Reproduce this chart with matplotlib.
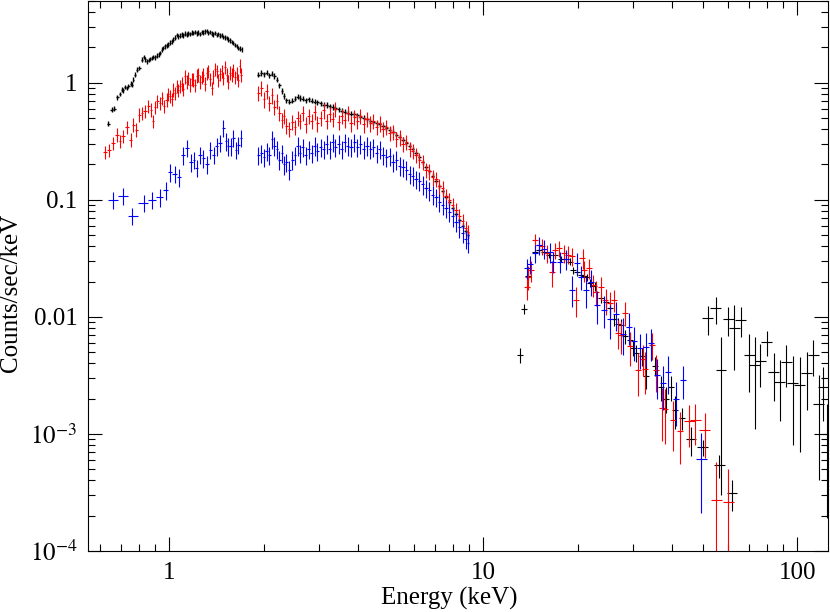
# -*- coding: utf-8 -*-
"""
Unfolded X-ray spectrum, three instruments (XSPEC-style cross plot)
"""

import numpy as np
import matplotlib
matplotlib.use('Agg')
import matplotlib.pyplot as plt
from matplotlib.ticker import FixedLocator, FixedFormatter, LogLocator, NullFormatter

# %% Data

# soft band, 0.6 - 1.7 keV
e_soft_blk = [0.639, 0.655, 0.666, 0.683, 0.695, 0.705, 0.714, 0.722, 0.731, 0.740,
              0.753, 0.760, 0.767, 0.777, 0.790, 0.802, 0.816, 0.830, 0.838, 0.847,
              0.858, 0.868, 0.879, 0.889, 0.902, 0.915, 0.925, 0.933, 0.945, 0.956,
              0.968, 0.980, 0.992, 1.005, 1.017, 1.030, 1.042, 1.055, 1.068, 1.081,
              1.095, 1.108, 1.121, 1.135, 1.149, 1.163, 1.177, 1.192, 1.207, 1.222,
              1.237, 1.252, 1.268, 1.284, 1.300, 1.315, 1.331, 1.348, 1.364, 1.380,
              1.397, 1.414, 1.432, 1.449, 1.467, 1.485, 1.503, 1.522, 1.541, 1.560,
              1.579, 1.598, 1.618, 1.637, 1.657, 1.678, 1.698]
c_soft_blk = [0.446, 0.588, 0.60, 0.75, 0.80, 0.87, 0.86, 0.92, 0.90, 0.94,
              0.98, 0.96, 1.06, 1.17, 1.29, 1.34, 1.57, 1.66, 1.58, 1.52,
              1.56, 1.59, 1.63, 1.66, 1.64, 1.70, 1.75, 1.79, 1.91, 1.97,
              2.04, 2.08, 2.11, 2.20, 2.26, 2.33, 2.42, 2.55, 2.48, 2.52,
              2.58, 2.54, 2.62, 2.57, 2.64, 2.60, 2.68, 2.66, 2.70, 2.63,
              2.67, 2.60, 2.72, 2.68, 2.74, 2.76, 2.66, 2.71, 2.62, 2.58,
              2.65, 2.55, 2.60, 2.52, 2.55, 2.46, 2.44, 2.40, 2.33, 2.30,
              2.22, 2.18, 2.10, 2.05, 1.98, 1.95, 1.92]

e_soft_red = [0.624, 0.644, 0.660, 0.680, 0.697, 0.710, 0.731, 0.753, 0.767, 0.783,
              0.802, 0.816, 0.836, 0.857, 0.872, 0.889, 0.903, 0.915, 0.933, 0.948,
              0.961, 0.980, 0.993, 1.005, 1.017, 1.029, 1.042, 1.055, 1.068, 1.081,
              1.095, 1.108, 1.121, 1.135, 1.149, 1.163, 1.177, 1.192, 1.207, 1.222,
              1.236, 1.252, 1.268, 1.282, 1.300, 1.315, 1.330, 1.348, 1.364, 1.380,
              1.397, 1.414, 1.432, 1.449, 1.467, 1.485, 1.503, 1.522, 1.541, 1.560,
              1.580, 1.598, 1.618, 1.638, 1.657, 1.676, 1.690]
c_soft_red = [0.254, 0.264, 0.305, 0.36, 0.315, 0.348, 0.42, 0.326, 0.438, 0.397,
              0.533, 0.55, 0.569, 0.628, 0.588, 0.467, 0.62, 0.692, 0.67, 0.74,
              0.628, 0.716, 0.80, 0.764, 0.72, 0.871, 0.82, 0.93, 0.86, 0.93,
              0.98, 0.88, 1.13, 1.02, 1.10, 0.96, 1.08, 1.06, 0.95, 1.15,
              1.17, 1.02, 1.12, 1.17, 0.98, 1.20, 1.25, 1.08, 0.90, 1.13,
              1.30, 1.25, 1.05, 1.18, 1.25, 1.10, 1.35, 1.17, 1.02, 1.22,
              1.17, 1.28, 1.12, 1.21, 1.05, 1.40, 1.17]

e_soft_blu = [0.663, 0.713, 0.762, 0.830, 0.878, 0.933, 0.975, 1.005, 1.039, 1.075,
              1.102, 1.140, 1.172, 1.198, 1.222, 1.252, 1.282, 1.321, 1.346, 1.387,
              1.414, 1.449, 1.485, 1.511, 1.540, 1.567, 1.598, 1.630, 1.658, 1.687]
c_soft_blu = [0.100, 0.108, 0.073, 0.094, 0.100, 0.105, 0.120, 0.172, 0.167, 0.156,
              0.239, 0.277, 0.208, 0.220, 0.187, 0.243, 0.227, 0.200, 0.268, 0.243,
              0.286, 0.305, 0.410, 0.315, 0.286, 0.286, 0.337, 0.268, 0.295, 0.337]

# medium band, 1.9 - 9 keV (same grid for the three instruments)
e_mid = [1.92, 1.96, 2.00, 2.04, 2.08, 2.12, 2.16, 2.20, 2.24, 2.28,
         2.32, 2.36, 2.41, 2.46, 2.51, 2.56, 2.61, 2.66, 2.72, 2.78,
         2.84, 2.90, 2.96, 3.03, 3.10, 3.17, 3.24, 3.31, 3.38, 3.46,
         3.54, 3.62, 3.70, 3.79, 3.88, 3.97, 4.06, 4.16, 4.26, 4.36,
         4.46, 4.57, 4.68, 4.79, 4.91, 5.03, 5.15, 5.28, 5.41, 5.54,
         5.68, 5.82, 5.96, 6.11, 6.26, 6.41, 6.57, 6.73, 6.90, 7.07,
         7.24, 7.42, 7.60, 7.79, 7.98, 8.18, 8.38, 8.59, 8.80, 8.95]
c_mid_blk = [1.17, 1.21, 1.18, 1.22, 1.16, 1.19, 1.14, 1.06, 0.95, 0.85,
             0.77, 0.71, 0.69, 0.70, 0.73, 0.76, 0.74, 0.73, 0.71, 0.72,
             0.70, 0.69, 0.68, 0.67, 0.65, 0.645, 0.63, 0.62, 0.605, 0.59,
             0.575, 0.565, 0.555, 0.545, 0.535, 0.525, 0.51, 0.50, 0.485, 0.47,
             0.46, 0.45, 0.44, 0.425, 0.41, 0.395, 0.38, 0.36, 0.345, 0.325,
             0.305, 0.29, 0.27, 0.25, 0.23, 0.21, 0.19, 0.175, 0.16, 0.145,
             0.13, 0.118, 0.106, 0.095, 0.085, 0.076, 0.067, 0.060, 0.054, 0.050]
c_mid_red = [0.82, 0.90, 0.72, 0.85, 0.67, 0.78, 0.62, 0.70, 0.55, 0.48,
             0.52, 0.43, 0.40, 0.46, 0.42, 0.50, 0.47, 0.55, 0.44, 0.52,
             0.47, 0.56, 0.45, 0.50, 0.58, 0.47, 0.54, 0.49, 0.60, 0.46,
             0.52, 0.48, 0.55, 0.45, 0.51, 0.47, 0.52, 0.44, 0.49, 0.45,
             0.47, 0.42, 0.45, 0.40, 0.42, 0.37, 0.38, 0.33, 0.34, 0.30,
             0.31, 0.27, 0.26, 0.24, 0.22, 0.21, 0.18, 0.175, 0.155, 0.15,
             0.13, 0.125, 0.108, 0.10, 0.09, 0.082, 0.072, 0.066, 0.057, 0.053]
c_mid_blu = [0.24, 0.25, 0.23, 0.26, 0.24, 0.33, 0.29, 0.27, 0.22, 0.25,
             0.20, 0.21, 0.18, 0.22, 0.24, 0.29, 0.25, 0.28, 0.24, 0.27,
             0.25, 0.29, 0.26, 0.28, 0.27, 0.30, 0.27, 0.31, 0.28, 0.30,
             0.27, 0.31, 0.29, 0.28, 0.31, 0.28, 0.30, 0.27, 0.29, 0.27,
             0.28, 0.25, 0.27, 0.24, 0.23, 0.235, 0.21, 0.22, 0.195, 0.19,
             0.18, 0.165, 0.16, 0.15, 0.145, 0.135, 0.125, 0.12, 0.11, 0.105,
             0.095, 0.09, 0.085, 0.078, 0.072, 0.065, 0.058, 0.052, 0.046, 0.043]

# hard band, 13 - 125 keV
e_hard_blk = [13.12, 13.5, 13.9, 14.65, 15.05, 15.6, 16.2, 16.9, 17.7, 18.3,
              18.9, 19.35, 19.9, 20.5, 21.0, 21.4, 21.8, 22.6, 23.7, 24.6,
              25.3, 26.0, 26.8, 27.5, 28.2, 29.3, 29.9, 30.7, 32.1, 32.9,
              35.2, 36.7, 38.1, 39.7, 40.7, 43.0, 45.9, 50.1, 51.9, 55.0,
              56.4, 57.2, 60.3, 62.0, 63.1, 66.0, 70.3, 73.3, 76.3, 79.9,
              84.3, 88.1, 92.2, 96.9, 101.8, 107.1, 112.6, 117.2, 121.0, 124.5]
c_hard_blk = [0.0047, 0.0117, 0.0223, 0.0357, 0.0373, 0.036, 0.0338, 0.0335, 0.031, 0.031,
              0.0296, 0.025, 0.024, 0.0229, 0.0225, 0.0218, 0.0195, 0.0182, 0.0144, 0.0135,
              0.0118, 0.0095, 0.0087, 0.0085, 0.0068, 0.0064, 0.0054, 0.0049, 0.0046, 0.0031,
              0.0038, 0.0025, 0.0020, 0.0025, 0.0016, 0.00137, 0.0009, 0.00077, 0.0097, 0.0118,
              0.00054, 0.0035, 0.0095, 0.00031, 0.0081, 0.0094, 0.0047, 0.0039, 0.0042, 0.0061,
              0.0034, 0.0028, 0.0041, 0.0027, 0.0026, 0.0033, 0.0047, 0.0018, 0.0025, 0.00099]
s_hard_blk = [0.0007, 0.0012, 0.0018, 0.0022, 0.0022, 0.0021, 0.002, 0.002, 0.0019, 0.0019,
              0.0019, 0.0017, 0.0017, 0.0016, 0.0016, 0.0016, 0.0015, 0.0015, 0.0013, 0.0013,
              0.0012, 0.0011, 0.0011, 0.0011, 0.0009, 0.0009, 0.0008, 0.0008, 0.0008, 0.0007,
              0.0007, 0.0006, 0.0005, 0.0006, 0.0005, 0.0003, 0.00025, 0.00012, 0.0027, 0.0031,
              0.00012, 0.0032, 0.0027, 0.00009, 0.0046, 0.0027, 0.0024, 0.0028, 0.0017, 0.0015,
              0.0015, 0.0015, 0.0016, 0.0019, 0.0019, 0.0017, 0.0016, 0.0014, 0.0012, 0.0008]

e_hard_red = [13.75, 13.9, 14.2, 14.6, 15.05, 15.4, 15.9, 16.6, 16.9, 17.4,
              18.1, 18.6, 19.2, 19.8, 20.7, 21.0, 21.7, 22.4, 22.9, 23.7,
              24.5, 25.3, 26.1, 26.8, 27.5, 28.3, 29.4, 31.0, 32.2, 32.7,
              34.4, 35.5, 37.0, 37.9, 40.2, 42.4, 45.3, 47.3, 50.8, 55.2, 60.3]
c_hard_red = [0.018, 0.022, 0.025, 0.045, 0.041, 0.040, 0.035, 0.024, 0.037, 0.0385,
              0.035, 0.034, 0.033, 0.014, 0.0316, 0.025, 0.026, 0.0188, 0.0164, 0.018,
              0.0139, 0.0132, 0.014, 0.0073, 0.0070, 0.0108, 0.0056, 0.0035, 0.0044, 0.0036,
              0.0058, 0.0035, 0.00167, 0.00162, 0.00131, 0.00105, 0.00128, 0.00131, 0.00107,
              0.00027, 0.00026]
s_hard_red = [0.004, 0.005, 0.005, 0.006, 0.006, 0.006, 0.006, 0.006, 0.006, 0.006,
              0.006, 0.006, 0.006, 0.004, 0.006, 0.005, 0.005, 0.004, 0.004, 0.004,
              0.0035, 0.003, 0.003, 0.002, 0.0022, 0.0025, 0.0018, 0.0014, 0.0013, 0.0014,
              0.0015, 0.0012, 0.0008, 0.0008, 0.0006, 0.0005, 0.0005, 0.0005, 0.00045,
              0.0003, 0.00024]

e_hard_blu = [13.8, 14.1, 14.65, 15.05, 15.6, 16.3, 16.7, 17.5, 18.3, 19.2,
              19.9, 20.5, 21.2, 22.0, 23.1, 24.2, 25.3, 26.5, 27.8, 29.1,
              30.3, 31.5, 32.9, 34.1, 35.7, 37.3, 38.7, 41.0, 43.3, 49.5]
c_hard_blu = [0.026, 0.028, 0.035, 0.041, 0.038, 0.036, 0.0296, 0.0296, 0.031, 0.0171,
              0.0288, 0.022, 0.0169, 0.020, 0.0127, 0.0115, 0.0095, 0.0105, 0.0072, 0.0082,
              0.0062, 0.0054, 0.0055, 0.0060, 0.0032, 0.0027, 0.0034, 0.00197, 0.0029, 0.00061]
s_hard_blu = [0.005, 0.005, 0.006, 0.007, 0.007, 0.007, 0.006, 0.006, 0.006, 0.005,
              0.006, 0.005, 0.005, 0.005, 0.004, 0.0035, 0.003, 0.003, 0.0025, 0.0025,
              0.002, 0.0018, 0.0018, 0.0018, 0.0012, 0.0011, 0.0012, 0.0008, 0.0009, 0.0004]

# relative 1-sigma errors of the crowded soft / medium bins
REL_ERR = {'k': (0.045, 0.05), 'r': (0.13, 0.15), 'b': (0.17, 0.18)}

y_ticks = [1e-4, 1e-3, 1e-2, 1e-1, 1]
y_labels = ['$10^{-4}$', '$10^{-3}$', '0.01', '0.1', '1']
x_ticks = [1, 10, 100]
x_labels = ['1', '10', '100']

COL = {'k': '#000000', 'r': '#ff0000', 'b': '#0000ff'}


# %% Functions

def bin_halfwidths(_e):
    """half widths of contiguous bins from the geometric midpoints"""
    le = np.log10(np.asarray(_e, float))
    mid = 0.5 * (le[1:] + le[:-1])
    lo = np.concatenate([[2 * le[0] - mid[0]], mid])
    hi = np.concatenate([mid, [2 * le[-1] - mid[-1]]])
    return np.vstack([10**le - 10**lo, 10**hi - 10**le])


def safe_yerr(_c, _s):
    """keep the lower bar positive for the log axis"""
    c = np.asarray(_c, float)
    s = np.asarray(_s, float)
    return np.vstack([np.minimum(s, c * 0.999), s])


def crosses(_ax, _e, _c, _xerr, _yerr, _col, _lw=0.8):
    _ax.errorbar(_e, _c, xerr=_xerr, yerr=_yerr, fmt='none',
                 ecolor=_col, elinewidth=_lw, capsize=0)


# %% Plot

plt.rcParams['font.family'] = ['Liberation Serif', 'DejaVu Serif']
plt.rcParams['mathtext.fontset'] = 'stix'
plt.rcParams['font.size'] = 18

fig = plt.figure(figsize=(8.3, 6.12), dpi=100)
ax = fig.add_axes([0.1065, 0.0997, 0.8915, 0.899])

soft = {'k': (e_soft_blk, c_soft_blk), 'r': (e_soft_red, c_soft_red), 'b': (e_soft_blu, c_soft_blu)}
mid = {'k': c_mid_blk, 'r': c_mid_red, 'b': c_mid_blu}
hard = {'k': (e_hard_blk, c_hard_blk, s_hard_blk),
        'r': (e_hard_red, c_hard_red, s_hard_red),
        'b': (e_hard_blu, c_hard_blu, s_hard_blu)}

for key in ['k', 'r', 'b']:
    col = COL[key]
    err_soft, err_mid = REL_ERR[key]
    lw = 1.0 if key == 'k' else 0.8

    e, c = soft[key]
    c = np.asarray(c)
    crosses(ax, e, c, bin_halfwidths(e), c * err_soft, col, lw)

    c = np.asarray(mid[key])
    crosses(ax, e_mid, c, bin_halfwidths(e_mid), c * err_mid, col, lw)

    e, c, s = hard[key]
    e = np.asarray(e)
    xfrac = np.where(e < 45, 0.022, 0.04)
    crosses(ax, e, c, e * xfrac, safe_yerr(c, s), col)

ax.set_xscale('log')
ax.set_yscale('log')
ax.set_xlim(0.552, 125.6)
ax.set_ylim(1e-4, 5.0)

ax.xaxis.set_major_locator(FixedLocator(x_ticks))
ax.xaxis.set_major_formatter(FixedFormatter(x_labels))
ax.yaxis.set_major_locator(FixedLocator(y_ticks))
ax.yaxis.set_major_formatter(FixedFormatter(y_labels))
for axis in [ax.xaxis, ax.yaxis]:
    axis.set_minor_locator(LogLocator(base=10, subs=np.arange(2, 10), numticks=50))
    axis.set_minor_formatter(NullFormatter())

ax.tick_params(which='both', direction='in', top=True, right=True, width=0.8)
ax.tick_params(which='major', length=10, pad=8, labelsize=18)
ax.tick_params(which='minor', length=5)
for sp in ax.spines.values():
    sp.set_linewidth(0.8)

ax.set_xlabel('Energy (keV)', fontsize=18)
ax.set_ylabel('Counts/sec/keV', fontsize=18)
ax.xaxis.set_label_coords(0.488, -0.066)
ax.yaxis.set_label_coords(-0.09, 0.47)

fig.savefig('out.png', dpi=100)
